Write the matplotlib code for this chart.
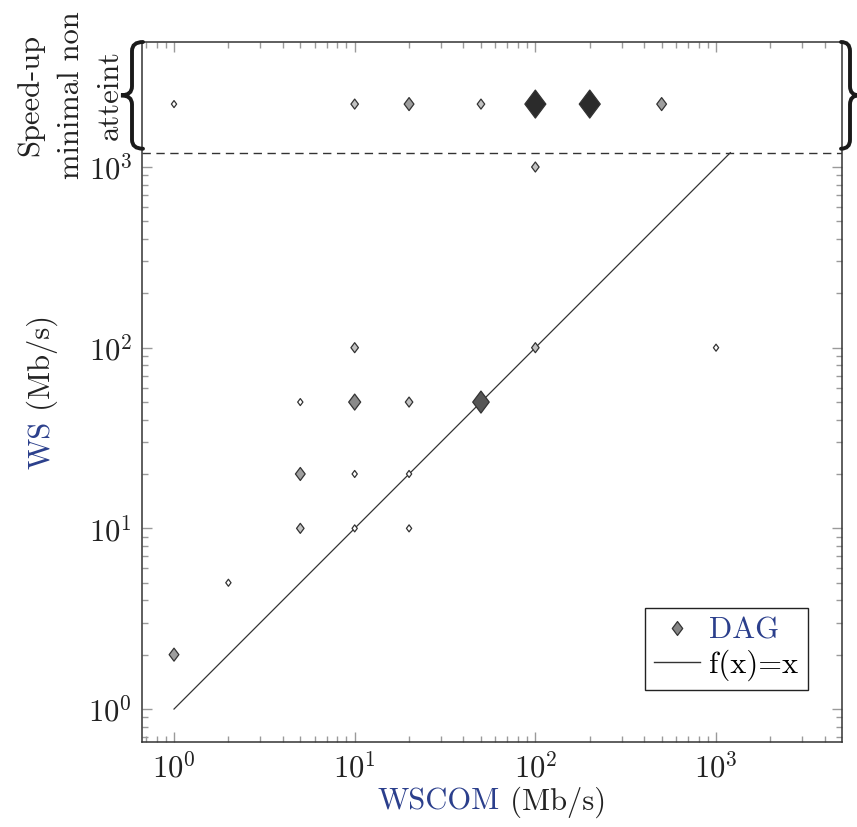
import numpy as np
import matplotlib
matplotlib.use("Agg")
import matplotlib.pyplot as plt
from matplotlib import ticker
from matplotlib.path import Path
from matplotlib.patches import PathPatch
from matplotlib.lines import Line2D

plt.rcParams['font.family'] = 'cmr10'
plt.rcParams['mathtext.fontset'] = 'cm'
plt.rcParams['axes.unicode_minus'] = False
plt.rcParams['axes.formatter.use_mathtext'] = True
plt.rcParams['font.size'] = 22

# DAG results: WSCOM vs WS (Mb/s), count = number of DAGs at that point
wscom = [1, 2, 5, 5, 5, 10, 10, 10, 10, 20, 20, 20, 50, 100, 100, 1000]
ws = [2, 5, 10, 20, 50, 10, 20, 50, 100, 10, 20, 50, 50, 100, 1000, 100]
count = [3, 1, 2, 3, 1, 1, 1, 4, 2, 1, 1, 2, 6, 2, 2, 1]

# speed-up minimal non atteint (drawn in the band above the dashed line)
na_wscom = [1, 10, 20, 50, 100, 200, 500]
na_count = [1, 2, 3, 2, 8, 8, 3]
na_row = 2230
ws_limit = 1200

blue = '#2b3f8c'
edge = '#333333'
shade = {1: '#ffffff', 2: '#c2c2c2', 3: '#9e9e9e', 4: '#8a8a8a', 6: '#565656', 8: '#2b2b2b'}

# wide diamond marker (pgfplots style)
diamond = Path([(0, 1), (0.75, 0), (0, -1), (-0.75, 0), (0, 1)],
               [Path.MOVETO, Path.LINETO, Path.LINETO, Path.LINETO, Path.CLOSEPOLY])


def msize(n):
    h = (4 + 3 * np.asarray(n)) * 0.72  # marker height in points
    return h ** 2


fig = plt.figure(figsize=(8.57, 8.27), dpi=100)
ax = fig.add_axes([142 / 857, 85 / 827, 700 / 857, 700 / 827])
ax.set_xscale('log')
ax.set_yscale('log')
ax.set_xlim(0.665, 4980)
ax.set_ylim(0.657, 4920)

# f(x)=x
fx = np.array([1, ws_limit])
ax.plot(fx, fx, color=edge, lw=0.9, zorder=2)
ax.axhline(ws_limit, color=edge, lw=1, ls=(0, (6, 4)), zorder=2)

ax.scatter(wscom, ws, s=msize(count), marker=diamond,
           c=[shade[n] for n in count], edgecolors=edge, linewidths=0.9, zorder=3)
ax.scatter(na_wscom, [na_row] * len(na_wscom), s=msize(na_count), marker=diamond,
           c=[shade[n] for n in na_count], edgecolors=edge, linewidths=0.9, zorder=3)

# ticks
ax.xaxis.set_major_locator(ticker.FixedLocator([1, 10, 100, 1000]))
ax.yaxis.set_major_locator(ticker.FixedLocator([1, 10, 100, 1000]))
xminor = [k * 10.0 ** d for d in range(-1, 4) for k in range(2, 10)]
yminor = [k * 10.0 ** d for d in range(-1, 3) for k in range(2, 10)]
ax.xaxis.set_minor_locator(ticker.FixedLocator([v for v in xminor if 0.665 < v < 4980]))
ax.yaxis.set_minor_locator(ticker.FixedLocator([v for v in yminor if 0.657 < v < 1000]))
fmt = ticker.FuncFormatter(lambda v, p: r'$10^{%d}$' % round(np.log10(v)))
ax.xaxis.set_major_formatter(fmt)
ax.yaxis.set_major_formatter(fmt)
ax.xaxis.set_minor_formatter(ticker.NullFormatter())
ax.yaxis.set_minor_formatter(ticker.NullFormatter())
ax.tick_params(which='both', direction='in', top=True, right=True, color='#9a9a9a',
               width=1, labelcolor='#222222', labelsize=22)
ax.tick_params(which='major', length=7, pad=7)
ax.tick_params(which='minor', length=4.5)
for sp in ax.spines.values():
    sp.set_color(edge)
    sp.set_linewidth(1.1)

# legend
handles = [Line2D([], [], ls='none', marker=diamond, markersize=10,
                  markerfacecolor='#858585', markeredgecolor=edge, markeredgewidth=0.9),
           Line2D([], [], color=edge, lw=1)]
leg = ax.legend(handles, ['DAG', 'f(x)=x'], loc='lower right', bbox_to_anchor=(0.951, 0.074),
                borderaxespad=0, fancybox=False, framealpha=1, edgecolor='#222222',
                handlelength=1.5, handletextpad=0.3, labelspacing=0.15, borderpad=0.3,
                fontsize=22)
leg.get_frame().set_linewidth(1)
leg.get_texts()[0].set_color(blue)

fig.canvas.draw()
renderer = fig.canvas.get_renderer()
inv = fig.transFigure.inverted()


def text_width(s):
    t = fig.text(0, 0, s, fontsize=22)
    w = t.get_window_extent(renderer).width
    t.remove()
    return w


def two_tone(parts, x, y, vertical=False):
    widths = [text_width(s) for s, c in parts]
    start = -sum(widths) / 2
    for (s, c), w in zip(parts, widths):
        if vertical:
            px, py = x, y + start
            rot = 90
        else:
            px, py = x + start, y
            rot = 0
        fx_, fy_ = inv.transform((px, py))
        fig.text(fx_, fy_, s, color=c, fontsize=22, rotation=rot, rotation_mode='anchor',
                 ha='left', va='baseline')
        start += w


bb = ax.get_window_extent(renderer)
two_tone([('WSCOM', blue), (' (Mb/s)', '#222222')], (bb.x0 + bb.x1) / 2, 17)
two_tone([('WS', blue), (' (Mb/s)', '#222222')], 50, (bb.y0 + bb.y1) / 2, vertical=True)

# braces around the "not reached" band
y_top = bb.y1
y_bot = ax.transData.transform((1, ws_limit))[1] + 4


def brace(x_tip, x_end, y_top, y_bot, r=9):
    xm = (x_tip + x_end) / 2
    ym = (y_top + y_bot) / 2
    verts = [(x_end, y_top), (xm, y_top), (xm, y_top - r), (xm, ym + r), (xm, ym), (x_tip, ym),
             (xm, ym), (xm, ym - r), (xm, y_bot + r), (xm, y_bot), (x_end, y_bot)]
    codes = [Path.MOVETO, Path.CURVE3, Path.CURVE3, Path.LINETO, Path.CURVE3, Path.CURVE3,
             Path.CURVE3, Path.CURVE3, Path.LINETO, Path.CURVE3, Path.CURVE3]
    p = Path(inv.transform(verts), codes)
    fig.add_artist(PathPatch(p, fill=False, lw=2.8, color='#1a1a1a',
                             transform=fig.transFigure, capstyle='round'))


brace(bb.x0 - 21, bb.x0 + 1, y_top, y_bot)
brace(bb.x1 + 17, bb.x1 - 1, y_top, y_bot)

# band label, one rotated line per text (baselines as in the reference)
ym_band = (y_top + y_bot) / 2
for line, xb in zip(['Speed-up', 'minimal non', 'atteint'], [38, 79, 118]):
    lx, ly = inv.transform((xb, ym_band))
    fig.text(lx, ly, line, rotation=90, rotation_mode='anchor', ha='center', va='baseline',
             fontsize=22, color='#222222')

fig.savefig('out.png', dpi=100)
